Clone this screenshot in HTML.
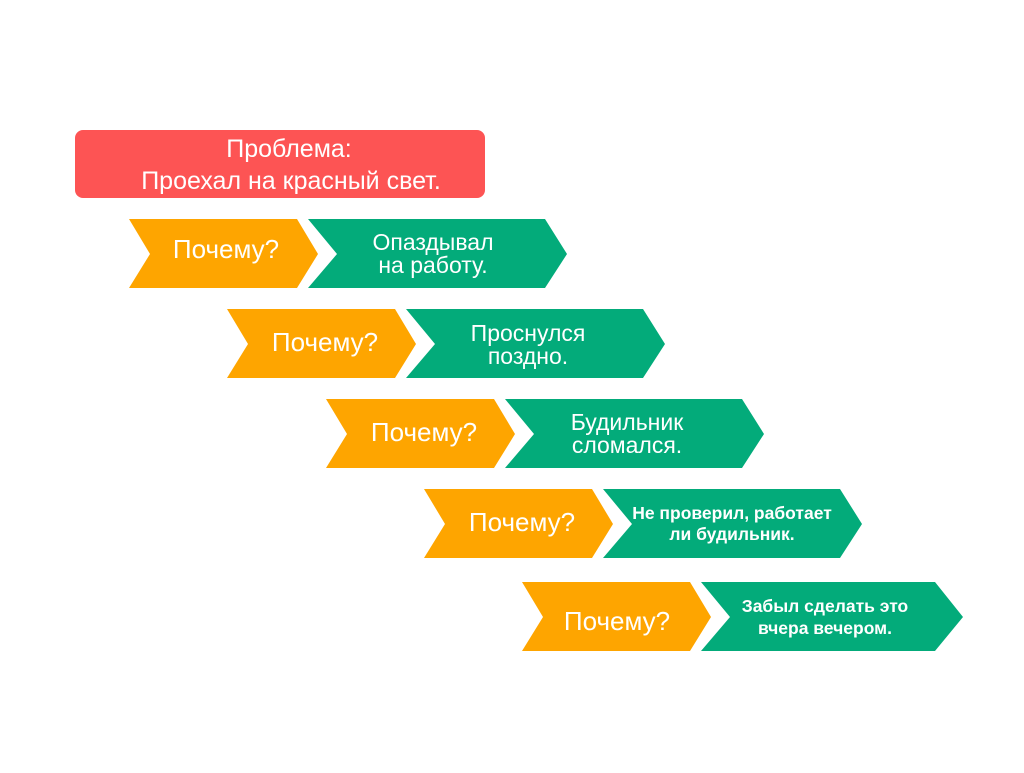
<!DOCTYPE html>
<html><head><meta charset="utf-8"><style>
body{margin:0;background:#fff;width:1024px;height:768px;overflow:hidden}
svg text{font-family:"Liberation Sans","DejaVu Sans",sans-serif;fill:#fff}
</style></head><body>
<svg width="1024" height="768" viewBox="0 0 1024 768">
<rect x="75" y="130" width="410" height="68" rx="8" fill="#fd5454"/>
<text x="289" y="157" font-size="25" text-anchor="middle">Проблема:</text>
<text x="291" y="189" font-size="25" text-anchor="middle">Проехал на красный свет.</text>
<g id="r">
<polygon points="129,219 297,219 318,254 297,288 129,288 150,254" fill="#fea500"/>
<polygon points="308,219 545,219 567,254 545,288 308,288 337,254" fill="#03ab7a"/>
</g>
<use href="#r" transform="translate(98,90)"/>
<use href="#r" transform="translate(197,180)"/>
<use href="#r" transform="translate(295,270)"/>
<polygon points="522,582 690,582 711,617 690,651 522,651 543,617" fill="#fea500"/>
<polygon points="701,582 935,582 963,617 935,651 701,651 730,617" fill="#03ab7a"/>
<g font-size="26" text-anchor="middle">
<text x="226" y="258">Почему?</text>
<text x="325" y="351">Почему?</text>
<text x="424" y="441">Почему?</text>
<text x="522" y="531">Почему?</text>
<text x="617" y="630">Почему?</text>
</g>
<g font-size="23" text-anchor="middle">
<text x="433" y="250">Опаздывал</text><text x="433" y="273">на работу.</text>
<text x="528" y="341">Проснулся</text><text x="528" y="364">поздно.</text>
<text x="627" y="430">Будильник</text><text x="627" y="453">сломался.</text>
</g>
<g font-size="17.5" font-weight="bold" text-anchor="middle">
<text x="732" y="519">Не проверил, работает</text><text x="732" y="540">ли будильник.</text>
<text x="825" y="612">Забыл сделать это</text><text x="825" y="634">вчера вечером.</text>
</g>
</svg>
</body></html>
